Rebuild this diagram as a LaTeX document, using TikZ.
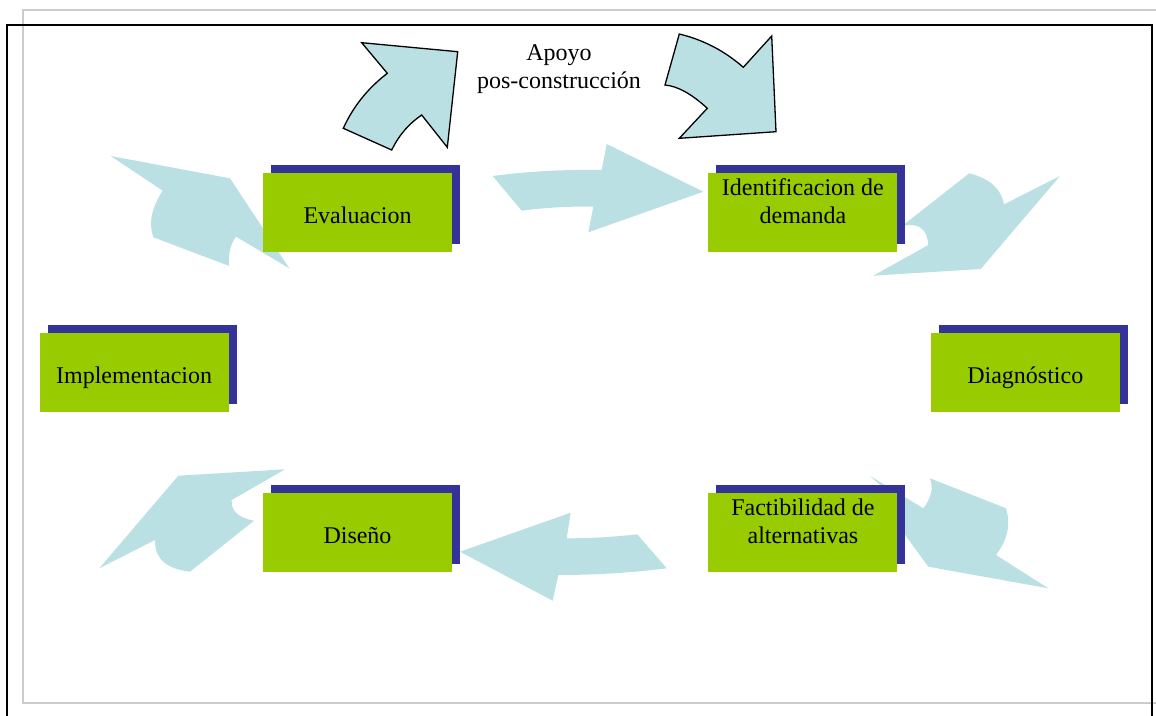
\documentclass[tikz,border=0pt]{standalone}
\usepackage{fontspec}
\setmainfont{Liberation Serif}
\usetikzlibrary{positioning,shadows}
\definecolor{verde}{HTML}{99CC00}
\definecolor{azul}{HTML}{333399}
\definecolor{celeste}{HTML}{BBE0E3}

\begin{document}
\begin{tikzpicture}[x=1pt, y=-1pt, node distance={241pt},
  fase/.style = {fill=verde, minimum width=189pt, minimum height=79pt, inner sep=0pt, align=center,
    text height=27pt, text depth=5pt, font=\fontsize{24}{28}\selectfont,
    general shadow={fill=azul, shadow xshift=8pt, shadow yshift=8pt}},
  flecha/.style = {fill=celeste},
  apoyo/.style = {fill=celeste, draw=black, line width=1.3pt}]
\useasboundingbox (0,0) rectangle (1156,715);
\draw[black!20, line width=1.5pt] (23,10) rectangle (1180,703);
\draw[line width=1.5pt] (7,25) rectangle (1152,740);

\fill[flecha] (110.7,156) -- (230,178.3) -- (289.3,268.3) -- (236,236.7) .. controls (230.2,244.6) and (228,254.4) .. (229.3,266) -- (153.3,237.3) .. controls (148.4,223.1) and (151.6,207.6) .. (162.7,190.7) -- cycle;
\fill[flecha] (492.7,176) .. controls (528.8,171.3) and (565.1,169.3) .. (601.7,170) -- (606.7,144) -- (703.3,191.7) -- (588.3,232.3) -- (593.3,206.7) .. controls (569.1,206.2) and (545.2,207.6) .. (521.7,210.7) -- cycle;
\fill[flecha] (969.3,173.3) .. controls (989.8,178.6) and (1001.3,188.9) .. (1004,204.3) -- (1060,176) -- (980.7,269) -- (873.3,275.7) -- (928.3,245) .. controls (927.3,228.7) and (918.5,222.3) .. (902,226) -- cycle;
\fill[flecha] (870,476) -- (923.3,508.3) .. controls (931.3,498.3) and (933.5,488.3) .. (930,478.3) -- (1006,508.3) .. controls (1011.1,523.9) and (1007.7,539.5) .. (996,555) -- (1048.3,588.3) -- (928.3,566.7) -- (895,521) -- (885,489) -- cycle;
\fill[flecha] (460,551.7) -- (570.7,512.7) -- (566.7,538.3) .. controls (590.2,538.3) and (613.8,537) .. (637.3,534.3) -- (666.7,568.3) .. controls (630.8,572.8) and (594.6,575) .. (558.3,575) -- (552.7,600.7) -- cycle;
\fill[flecha] (178.3,475.7) -- (285,469.3) -- (231.7,500) .. controls (230.9,510.9) and (238.3,517.8) .. (254,520.7) -- (190,571.7) .. controls (166.1,568.9) and (154.5,558.3) .. (155,540) -- (99.3,568.3) -- cycle;

\filldraw[apoyo] (361.7,42.7) -- (457.7,51.7) -- (447.3,147.3) -- (421.7,115) .. controls (409.4,123.3) and (399.4,134.3) .. (391.7,150) -- (343.3,128.3) .. controls (353.1,106.6) and (367.8,88.3) .. (387.3,73.3) -- cycle;
\filldraw[apoyo] (679.3,34) .. controls (703.3,39.8) and (724.6,50.9) .. (743.3,67.3) -- (771.7,36) -- (776,131.7) -- (679.3,138.3) -- (707.3,108.3) .. controls (691.6,93.9) and (677.5,86.1) .. (665,85) -- cycle;
\node[align=center, font=\fontsize{24}{28}\selectfont] (posc) at (559,69) {Apoyo\\pos-construcción};

\node[fase] (eval) at (357.5,212.5) {Evaluacion};
\node[fase] (ident) [right=256pt of eval] {Identificacion de\\demanda};
\node[fase] (impl) [below left=81pt and 34pt of eval] {Implementacion};
\node[fase] (diag) [below right=81pt and 33pt of ident] {Diagnóstico};
\node[fase] (dise) [below=of eval] {Diseño};
\node[fase] (fact) [below=of ident] {Factibilidad de\\alternativas};

\end{tikzpicture}
\end{document}
